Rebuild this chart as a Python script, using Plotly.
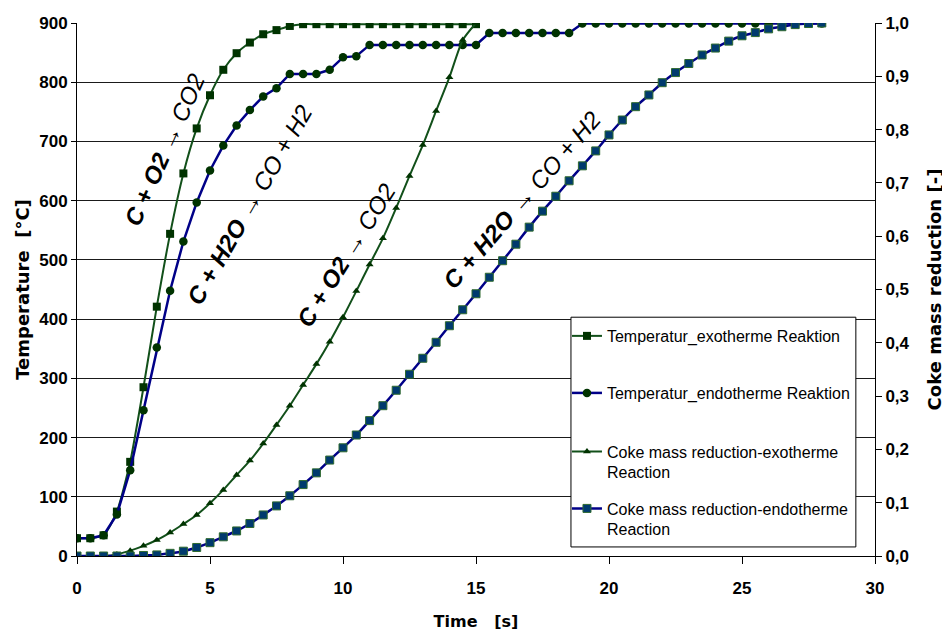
import plotly.graph_objects as go

# ---- data ----
TIME = [0, 0.5, 1, 1.5, 2, 2.5, 3, 3.5, 4, 4.5, 5, 5.5, 6, 6.5, 7, 7.5, 8, 8.5, 9, 9.5,
        10, 10.5, 11, 11.5, 12, 12.5, 13, 13.5, 14, 14.5, 15, 15.5, 16, 16.5, 17, 17.5,
        18, 18.5, 19, 19.5, 20, 20.5, 21, 21.5, 22, 22.5, 23, 23.5, 24, 24.5, 25, 25.5,
        26, 26.5, 27, 27.5, 28]

TEMP_EXO = [30, 30, 35, 75, 159, 285, 421, 544, 646, 722, 778, 821, 849, 867, 881, 888,
            895, 898, 898, 898, 898, 898, 898, 898, 898, 898, 898, 898, 898, 898, 898]

TEMP_ENDO = [30, 30, 35, 70, 145, 246, 352, 448, 531, 597, 651, 693, 727, 753, 776, 790,
             814, 814, 814, 821, 842, 844, 863, 863, 863, 863, 863, 863, 863, 863, 863,
             883, 883, 883, 883, 883, 883, 883, 899, 899, 899, 899, 899, 899, 899, 899,
             899, 899, 899, 899, 899, 899, 899, 899, 899, 899, 899]

COKE_EXO = [0, 0, 0, 0.003, 0.010, 0.019, 0.030, 0.044, 0.060, 0.077, 0.099, 0.124,
            0.152, 0.179, 0.211, 0.246, 0.282, 0.321, 0.360, 0.402, 0.448, 0.497, 0.547,
            0.596, 0.653, 0.713, 0.771, 0.835, 0.898, 0.968, 1.0]

COKE_ENDO = [0, 0, 0, 0, 0, 0.001, 0.002, 0.005, 0.009, 0.016, 0.025, 0.036, 0.047,
             0.061, 0.077, 0.094, 0.113, 0.134, 0.156, 0.180, 0.203, 0.227, 0.254, 0.282,
             0.311, 0.341, 0.371, 0.401, 0.432, 0.462, 0.492, 0.523, 0.554, 0.585, 0.617,
             0.647, 0.675, 0.704, 0.732, 0.760, 0.790, 0.818, 0.843, 0.865, 0.888, 0.907,
             0.924, 0.940, 0.953, 0.966, 0.976, 0.982, 0.989, 0.993, 0.997, 0.999, 1.0]

NAMES = ["Temperatur_exotherme Reaktion",
         "Temperatur_endotherme Reaktion",
         "Coke mass reduction-exotherme<br>Reaction",
         "Coke mass reduction-endotherme<br>Reaction"]

X_TICKS = [0, 5, 10, 15, 20, 25, 30]
Y_TICKS = [0, 100, 200, 300, 400, 500, 600, 700, 800, 900]
Y2_TICKS = [0.0, 0.1, 0.2, 0.3, 0.4, 0.5, 0.6, 0.7, 0.8, 0.9, 1.0]

LABELS = [
    # (bold part, regular part, x, y, angle)
    ("C + O2", " \u2192 CO2", 3.3, 686, -66),
    ("C + H2O", " \u2192 CO + H2", 6.5, 593, -60),
    ("C + O2", " \u2192 CO2", 10.1, 508, -58),
    ("C + H2O", " \u2192 CO + H2", 16.7, 601, -49),
]

GREEN = "#12501a"
DKGREEN = "#003300"
BLUE = "#000088"
SANS = "Liberation Sans, Arial, sans-serif"
WIDE = "DejaVu Sans, Verdana, sans-serif"

# legend layout (paper fractions)
LEG_BOX = (0.619, 0.017, 0.976, 0.448)
LEG_X = 0.614
LEG_Y = [0.4128, 0.3058, 0.1764, 0.0694]

n15 = len(TEMP_EXO)
fig = go.Figure()
fig.add_trace(go.Scatter(
    x=TIME[:n15], y=TEMP_EXO, name=NAMES[0], mode="lines+markers", legend="legend",
    line=dict(color=GREEN, width=2, shape="spline", smoothing=0.6),
    marker=dict(symbol="square", size=8, color=DKGREEN)))
fig.add_trace(go.Scatter(
    x=TIME, y=TEMP_ENDO, name=NAMES[1], mode="lines+markers", legend="legend2",
    line=dict(color=BLUE, width=2.5),
    marker=dict(symbol="circle", size=8.5, color=DKGREEN)))
fig.add_trace(go.Scatter(
    x=TIME[:n15], y=COKE_EXO, name=NAMES[2], mode="lines+markers", yaxis="y2",
    legend="legend3",
    line=dict(color=GREEN, width=2, shape="spline", smoothing=0.6),
    marker=dict(symbol="triangle-up", size=7, color=DKGREEN)))
fig.add_trace(go.Scatter(
    x=TIME, y=COKE_ENDO, name=NAMES[3], mode="lines+markers", yaxis="y2",
    legend="legend4",
    line=dict(color=BLUE, width=2.5, shape="spline", smoothing=0.6),
    marker=dict(symbol="square", size=8, color="#003a6e",
                line=dict(color="#2f6a2f", width=1))))

for bold, reg, lx, ly, ang in LABELS:
    fig.add_annotation(
        x=lx, y=ly, xref="x", yref="y", showarrow=False, textangle=ang,
        text=f"<b><i>{bold}</i></b><i>{reg}</i>",
        font=dict(family=SANS, size=24, color="black"))

# legend frame
fig.add_shape(type="rect", xref="paper", yref="paper",
              x0=LEG_BOX[0], y0=LEG_BOX[1], x1=LEG_BOX[2], y1=LEG_BOX[3],
              fillcolor="white", line=dict(color="black", width=1), layer="above")

legfont = dict(family=SANS, size=16, color="black")


def leg(y, valign="middle"):
    return dict(x=LEG_X, y=y, xanchor="left", yanchor="middle",
                bgcolor="rgba(0,0,0,0)", borderwidth=0, font=legfont,
                itemwidth=30, valign=valign)


tickfont = dict(family=SANS, size=17, color="black", weight="bold")
titlefont = dict(family=WIDE, size=18, color="black", weight="bold")

fig.update_layout(
    width=942, height=629,
    margin=dict(l=69, r=75, t=15, b=81),
    paper_bgcolor="white", plot_bgcolor="white",
    separators=",.",
    showlegend=True,
    legend=leg(LEG_Y[0]),
    legend2=leg(LEG_Y[1]),
    legend3=leg(LEG_Y[2], "top"),
    legend4=leg(LEG_Y[3], "top"),
    xaxis=dict(range=[0, 30], tickvals=X_TICKS, showgrid=False, zeroline=False,
               showline=True, linecolor="black", linewidth=1, automargin=False,
               ticks="outside", ticklen=7, tickcolor="black", ticklabelstandoff=10,
               tickfont=tickfont,
               title=dict(text="Time\u00a0\u00a0\u00a0[s]",
                          font=dict(family=WIDE, size=16, color="black", weight="bold"),
                          standoff=18)),
    yaxis=dict(range=[0, 900], tickvals=Y_TICKS, showgrid=True, gridcolor="#1a1a1a",
               gridwidth=1, zeroline=False, showline=True, linecolor="black",
               linewidth=1, ticks="outside", ticklen=5, tickcolor="black",
               automargin=False, tickfont=tickfont,
               title=dict(text="Temperature\u00a0\u00a0[\u00b0C]", font=titlefont,
                          standoff=4)),
    yaxis2=dict(range=[0, 1.0], tickvals=Y2_TICKS, tickformat=".1f", overlaying="y",
                side="right", showgrid=False, zeroline=False, showline=True,
                linecolor="black", linewidth=1, ticks="outside", ticklen=6,
                tickcolor="black", tickfont=tickfont, automargin=False,
                title=dict(text="Coke mass reduction [-]", font=titlefont,
                           standoff=19)),
)

fig.write_html("out.html")
